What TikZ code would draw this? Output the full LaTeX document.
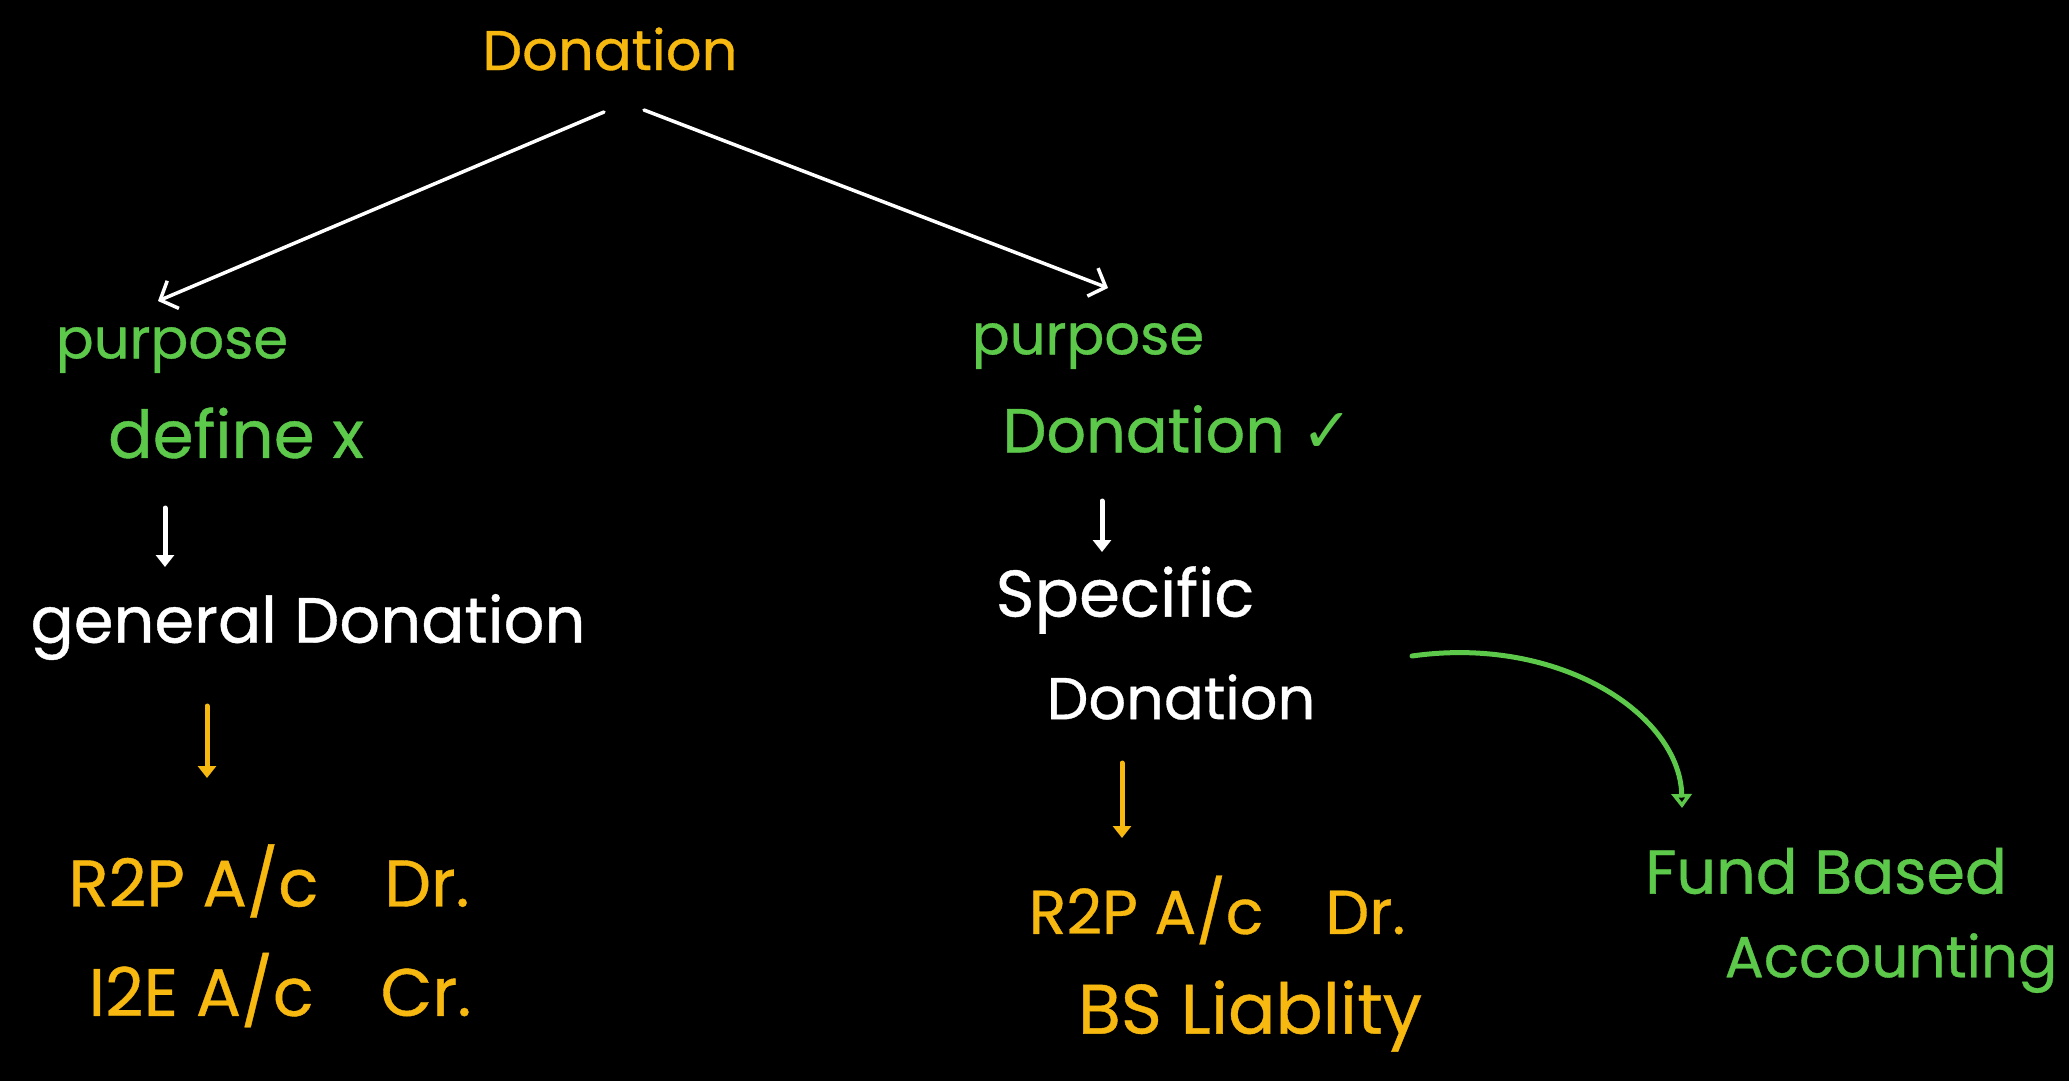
\documentclass[tikz,border=0pt]{standalone}
\usepackage{fontspec}
\setmainfont{Poppins}[FakeBold=0.6]
\newfontfamily\symfont{DejaVu Sans}
\usetikzlibrary{arrows.meta}
\definecolor{inkyellow}{HTML}{F7B90F}
\definecolor{inkgreen}{HTML}{5DC94B}
\begin{document}
\begin{tikzpicture}[x=1pt,y=-1pt,
  lbl/.style={inner sep=0pt, anchor=center, font=\fontsize{#1}{#1}\selectfont},
  lbl/.default=56,
  yel/.style={lbl=#1, text=inkyellow},
  yel/.default=56,
  grn/.style={lbl=#1, text=inkgreen},
  grn/.default=56,
  wht/.style={lbl=#1, text=white},
  wht/.default=56,
  branch/.style={draw=white, line width=3.5pt, line cap=round,
    -{Straight Barb[length=14pt,width=30pt,line width=3.5pt]}},
  down/.style={line width=5pt, line cap=round,
    -{Triangle[length=12pt,width=18pt]}},
  curvearrow/.style={draw=inkgreen, line width=5pt, line cap=round,
    -{Triangle[open,length=14pt,width=20pt,line width=4pt]}}
]
\fill[black] (0,0) rectangle (2069,1081);

% root
\node[yel] (don) at (610,49) {Donation};

% left branch
\node[grn] (lp) at (172,350) {purpose};
\node[grn=66] (ld) at (236,433) {define x};
\node[wht=64] (lg) at (308,627) {general Donation};
\node[yel=66] (lr) at (269,881) {R2P A/c\quad Dr.};
\node[yel=67] (li) at (280,990) {I2E A/c\quad Cr.};

% right branch
\node[grn] (rp) at (1088,346) {purpose};
\node[grn=62] (rd) at (1178,429) {Donation {\symfont ✓}};
\node[wht=66] (rs) at (1125,600) {Specific};
\node[wht=59] (rdn) at (1181,697) {Donation};
\node[yel=62] (rr) at (1217,910) {R2P A/c\quad Dr.};
\node[yel=70] (rb) at (1250,1016) {BS Liablity};

% side note
\node[grn=62] (fb) at (1826,871) {Fund Based};
\node[grn=58] (fa) at (1891,963) {Accounting};

% connectors
\draw[branch] ([shift={(-6,63)}]don.center) -- ([shift={(-14,-49)}]lp.center);
\draw[branch] ([shift={(34,61)}]don.center) -- ([shift={(20,-58)}]rp.center);

\draw[down, white] ([shift={(-71,75)}]ld.center) -- ([shift={(-143,-60)}]lg.center);
\draw[down, inkyellow] ([shift={(-101,79)}]lg.center) -- ([shift={(-62,-103)}]lr.center);
\draw[down, white] ([shift={(-76,72)}]rd.center) -- ([shift={(-23,-48)}]rs.center);
\draw[down, inkyellow] ([shift={(-59,66)}]rdn.center) -- ([shift={(-95,-72)}]rr.center);

\draw[curvearrow] ([shift={(231,-41)}]rdn.center)
  .. controls (1560,635) and (1680,715) .. ([shift={(-144,-63)}]fb.center);
\end{tikzpicture}
\end{document}
